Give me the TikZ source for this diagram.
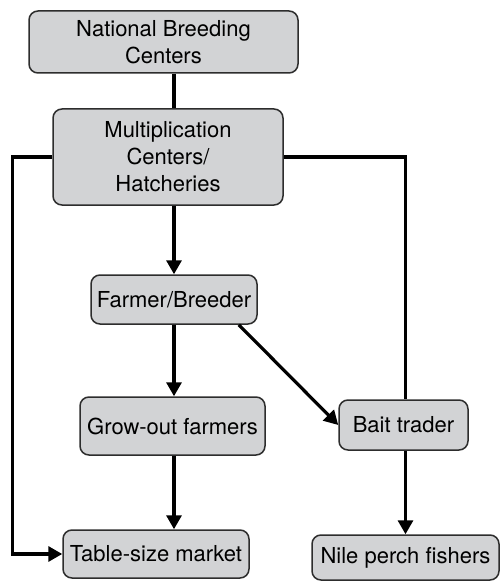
\documentclass[tikz,border=0pt]{standalone}
\usepackage{fontspec}
\setmainfont{TeX Gyre Heros}
\usetikzlibrary{arrows.meta}
\definecolor{boxfill}{RGB}{210,211,213}
\definecolor{boxline}{RGB}{45,45,45}
\begin{document}
\begin{tikzpicture}[x=1pt,y=-1pt,>={Triangle[length=14pt,width=15pt]},line width=3.2pt,
    box/.style={draw=boxline,fill=boxfill,line width=1.5pt,rounded corners=9pt,
        align=center,inner sep=0pt,font=\fontsize{22}{27}\selectfont},]
        \useasboundingbox (0,0) rectangle (502,583);
        \node[box,minimum width=269pt,minimum height=62pt] (A) at (163.5,42) {National Breeding\\Centers};
        \node[box,minimum width=230pt,minimum height=96pt] (B) at (168,157) {Multiplication\\Centers/\\Hatcheries};
        \node[box,minimum width=166pt,minimum height=49pt] (C) at (174,299.5) {Farmer/Breeder};
        \node[box,minimum width=185pt,minimum height=58pt] (D) at (172.5,426) {Grow-out farmers};
        \node[box,minimum width=129pt,minimum height=50pt] (E) at (403.5,425) {Bait trader};
        \node[box,minimum width=186pt,minimum height=48pt] (F) at (156,554) {Table-size market};
        \node[box,minimum width=187pt,minimum height=45pt] (G) at (405.5,557.5) {Nile perch fishers};
        \draw (A.south -| C) -- (B.north -| C);
        \draw[->] (B.south -| C) -- (C.north);
        \draw[->] (C.south) -- (D.north -| C);
        \draw[->] (D.south -| C) -- (F.north -| C);
        \draw[->] ([xshift=-19pt]C.south east) -- (E.west);
        \draw[->] (B.west) -- ++(-40,0) |- (F.west);
        \draw (B.east) -| (E.north -| G);
        \draw[->] (E.south -| G) -- (G.north);
    \end{tikzpicture}
\end{document}
